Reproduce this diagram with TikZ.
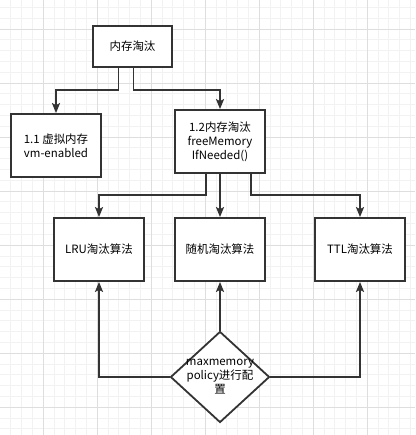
\documentclass[tikz,border=0pt]{standalone}
\usepackage{fontspec}
\setmainfont{Noto Sans CJK SC}
\usetikzlibrary{shapes.geometric,arrows.meta}

\begin{document}
\begin{tikzpicture}[x=1bp, y=-1bp, line width=1.8bp, >={Stealth[length=10bp,width=8bp,inset=2bp]},
  main/.style = {draw=black!80, fill=white, align=center, inner sep=0pt,
    minimum width=90bp, minimum height=63bp, font=\fontsize{11.5}{14}\selectfont},
  cfg/.style = {draw=black!80, fill=white, diamond, inner sep=0pt, minimum width=99bp, minimum height=91bp},
  minorgrid/.style = {draw=black!5, line width=0.6bp},
  majorgrid/.style = {draw=black!13, line width=0.6bp}]
\useasboundingbox (0,0) rectangle (415,435);

% background grid
\foreach \k in {-4,...,34} \draw[minorgrid] ({43+10.8*\k},0) -- ++(0,435);
\foreach \k in {-2,...,37} \draw[minorgrid] (0,{29+10.8*\k}) -- ++(415,0);
\foreach \k in {-1,...,6} \draw[majorgrid] ({43+54*\k},0) -- ++(0,435);
\foreach \k in {0,...,7} \draw[majorgrid] (0,{29+54*\k}) -- ++(415,0);

\node[main, minimum width=79bp, minimum height=41bp] (1) at (132.5,46.5) {内存淘汰};
\node[main] (2) at (56,145.5) {1.1 虚拟内存\\vm-enabled};
\node[main] (3) at (220,141.5) {1.2内存淘汰\\freeMemory\\IfNeeded()};
\node[main] (4) at (99,249.5) {LRU淘汰算法};
\node[main] (5) at (220,249.5) {随机淘汰算法};
\node[main] (6) at (360,249.5) {TTL淘汰算法};
\node[cfg] (7) at (220,377) {};
\node[align=center, inner sep=0pt, font=\fontsize{11.5}{14}\selectfont] (7t) at (7.center) {maxmemory\\policy进行配\\置};

\draw[draw=black!80, ->] ([xshift=-14bp]1.south) -- ++(0,22) -| (2);
\draw[draw=black!80, ->] ([xshift=1bp]1.south) -- ++(0,22) -| (3);

\draw[draw=black!80, ->] ([xshift=-14bp]3.south) -- ++(0,21) -| (4);
\draw[draw=black!80, ->] (3) -- (5);
\draw[draw=black!80, ->] ([xshift=31bp]3.south) -- ++(0,21) -| (6);

\draw[draw=black!80, ->] (7) -- (5);
\draw[draw=black!80, ->] (7.west) -| (4);
\draw[draw=black!80, ->] (7.east) -| (6);

\end{tikzpicture}
\end{document}
